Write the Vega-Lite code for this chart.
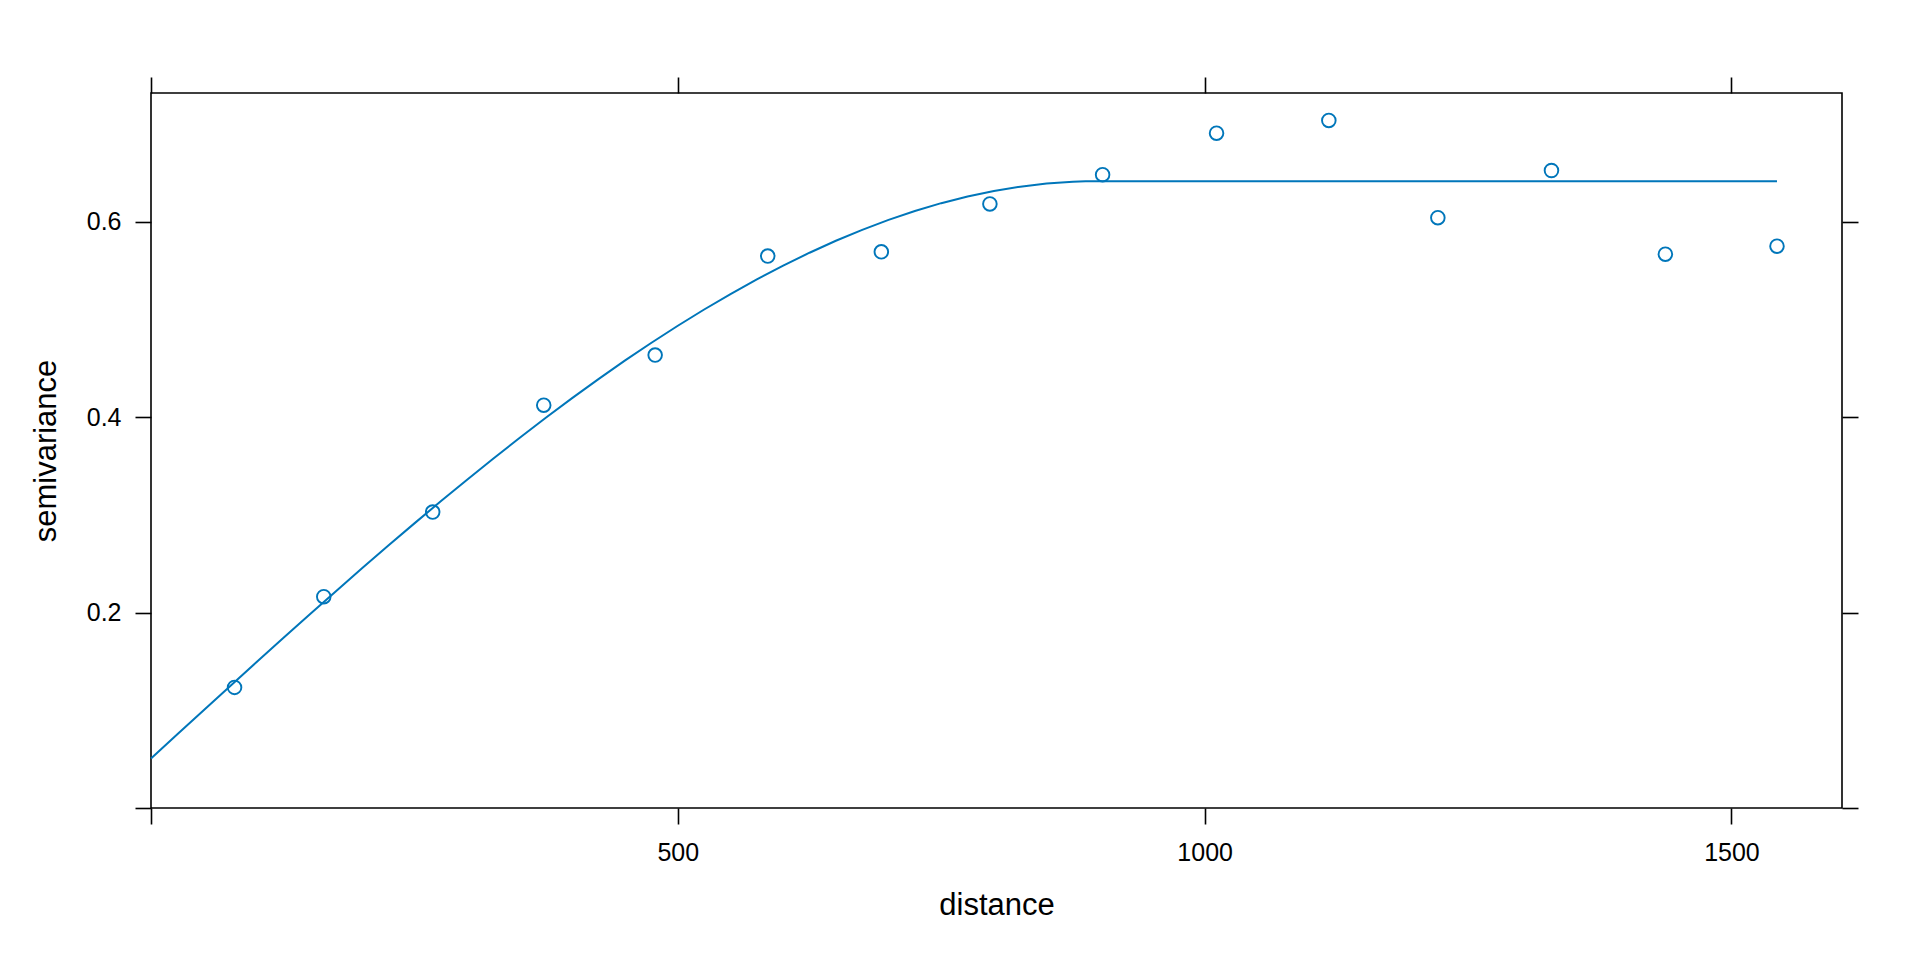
{
  "$schema": "https://vega.github.io/schema/vega-lite/v6.json",
  "autosize": {"type": "none"},
  "padding": {"left": 151, "top": 93, "right": 78, "bottom": 152},
  "width": 1691,
  "height": 715,
  "background": "white",
  "config": {
    "view": {"stroke": "black", "strokeWidth": 1.6},
    "font": "Liberation Sans",
    "axis": {
      "domain": false,
      "grid": false,
      "ticks": true,
      "tickColor": "black",
      "tickWidth": 1.6,
      "tickSize": 16,
      "labelFont": "Liberation Sans",
      "labelFontSize": 25,
      "labelColor": "black",
      "titleFont": "Liberation Sans",
      "titleFontSize": 31,
      "titleFontWeight": "normal",
      "titleColor": "black"
    }
  },
  "datasets": {
    "sample": [
      {"dist": 79.29, "gamma": 0.1234},
      {"dist": 163.97, "gamma": 0.2162},
      {"dist": 267.36, "gamma": 0.3028},
      {"dist": 372.74, "gamma": 0.4121},
      {"dist": 478.48, "gamma": 0.4634},
      {"dist": 585.34, "gamma": 0.5647},
      {"dist": 693.15, "gamma": 0.5690},
      {"dist": 796.18, "gamma": 0.6180},
      {"dist": 903.15, "gamma": 0.6479},
      {"dist": 1011.29, "gamma": 0.6904},
      {"dist": 1117.86, "gamma": 0.7034},
      {"dist": 1221.33, "gamma": 0.6039},
      {"dist": 1329.16, "gamma": 0.6522},
      {"dist": 1437.26, "gamma": 0.5666},
      {"dist": 1543.20, "gamma": 0.5748}
    ],
    "model": [
      {"dist": 0, "gamma": 0.0507},
      {"dist": 25, "gamma": 0.0754},
      {"dist": 50, "gamma": 0.1000},
      {"dist": 75, "gamma": 0.1246},
      {"dist": 100, "gamma": 0.1491},
      {"dist": 125, "gamma": 0.1734},
      {"dist": 150, "gamma": 0.1975},
      {"dist": 175, "gamma": 0.2213},
      {"dist": 200, "gamma": 0.2450},
      {"dist": 225, "gamma": 0.2683},
      {"dist": 250, "gamma": 0.2912},
      {"dist": 275, "gamma": 0.3138},
      {"dist": 300, "gamma": 0.3359},
      {"dist": 325, "gamma": 0.3576},
      {"dist": 350, "gamma": 0.3788},
      {"dist": 375, "gamma": 0.3995},
      {"dist": 400, "gamma": 0.4196},
      {"dist": 425, "gamma": 0.4390},
      {"dist": 450, "gamma": 0.4579},
      {"dist": 475, "gamma": 0.4760},
      {"dist": 500, "gamma": 0.4934},
      {"dist": 525, "gamma": 0.5100},
      {"dist": 550, "gamma": 0.5258},
      {"dist": 575, "gamma": 0.5408},
      {"dist": 600, "gamma": 0.5549},
      {"dist": 625, "gamma": 0.5681},
      {"dist": 650, "gamma": 0.5803},
      {"dist": 675, "gamma": 0.5915},
      {"dist": 700, "gamma": 0.6017},
      {"dist": 725, "gamma": 0.6108},
      {"dist": 750, "gamma": 0.6188},
      {"dist": 775, "gamma": 0.6257},
      {"dist": 800, "gamma": 0.6313},
      {"dist": 825, "gamma": 0.6357},
      {"dist": 850, "gamma": 0.6389},
      {"dist": 875, "gamma": 0.6408},
      {"dist": 887, "gamma": 0.6412},
      {"dist": 897, "gamma": 0.6413},
      {"dist": 1543.2, "gamma": 0.6413}
    ]
  },
  "layer": [
    {
      "data": {"name": "sample"},
      "mark": {"type": "point", "shape": "circle", "filled": false, "size": 185, "strokeWidth": 1.9, "color": "#0076BA", "opacity": 1},
      "encoding": {
        "x": {
          "field": "dist", "type": "quantitative",
          "scale": {"domain": [0, 1604.9], "nice": false, "zero": false},
          "axis": {"orient": "bottom", "values": [0, 500, 1000, 1500], "format": "d", "labelExpr": "datum.value == 0 ? '' : datum.label", "title": "distance", "labelPadding": 16, "titlePadding": 25, "titleX": 845.5, "titleAlign": "center", "titleAnchor": "middle"}
        },
        "y": {
          "field": "gamma", "type": "quantitative",
          "scale": {"domain": [0, 0.7315], "nice": false, "zero": false},
          "axis": {"orient": "left", "values": [0, 0.2, 0.4, 0.6], "format": ".1f", "labelExpr": "datum.value == 0 ? '' : datum.label", "title": "semivariance", "labelPadding": 14, "titlePadding": 24}
        }
      }
    },
    {
      "data": {"name": "model"},
      "mark": {"type": "line", "color": "#0076BA", "strokeWidth": 2, "interpolate": "linear"},
      "encoding": {
        "x": {
          "field": "dist", "type": "quantitative",
          "axis": {"orient": "top", "values": [0, 500, 1000, 1500], "labels": false, "title": null}
        },
        "y": {
          "field": "gamma", "type": "quantitative",
          "axis": {"orient": "right", "values": [0, 0.2, 0.4, 0.6], "labels": false, "title": null}
        }
      }
    }
  ],
  "resolve": {"axis": {"x": "independent", "y": "independent"}}
}
